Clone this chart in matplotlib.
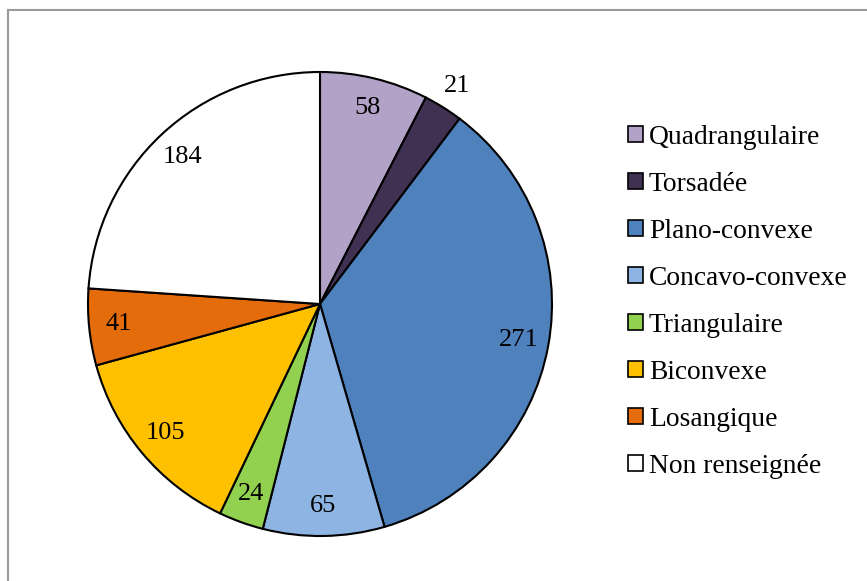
import matplotlib
matplotlib.use("Agg")
import matplotlib.pyplot as plt
from matplotlib.patches import Patch
from matplotlib.lines import Line2D

categories = ["Quadrangulaire", "Torsadée", "Plano-convexe", "Concavo-convexe",
              "Triangulaire", "Biconvexe", "Losangique", "Non renseignée"]
values = [58, 21, 271, 65, 24, 105, 41, 184]
colors = ["#B3A2C7", "#403152", "#4F81BD", "#8EB4E3",
          "#92D050", "#FFC000", "#E46C0A", "#FFFFFF"]

plt.rcParams['font.family'] = ['Liberation Serif', 'DejaVu Serif']

W, H = 867, 581
fig = plt.figure(figsize=(W / 100, H / 100), dpi=100)

# frame (top and left edges visible)
fig.add_artist(Line2D([8 / W, 1], [1 - 10 / H, 1 - 10 / H], color="#9a9a9a", lw=1.5,
                      transform=fig.transFigure))
fig.add_artist(Line2D([8 / W, 8 / W], [0, 1 - 10 / H], color="#9a9a9a", lw=1.5,
                      transform=fig.transFigure))

cx, cy, r = 320, 304, 232
ax = fig.add_axes([(cx - r) / W, (H - cy - r) / H, 2 * r / W, 2 * r / H])
wedges, texts = ax.pie(values, colors=colors, startangle=90, counterclock=False,
                       wedgeprops=dict(edgecolor="black", linewidth=1.5),
                       labels=[str(v) for v in values], labeldistance=0.87,
                       textprops=dict(fontsize=19, ha="center", va="center"))
for t in texts:
    t.set_ha("center")
    t.set_va("center")
# the small slice label sits outside
x, y = texts[1].get_position()
texts[1].set_position((x * 1.11 / 0.87, y * 1.11 / 0.87))
ax.set_xlim(-1, 1)
ax.set_ylim(-1, 1)
ax.set_aspect("equal")
ax.axis("off")

handles = [Patch(facecolor=c, edgecolor="black", linewidth=1.2) for c in colors]
leg = fig.legend(handles, categories, loc="upper left",
                 bbox_to_anchor=(614 / W, 1 - 111 / H), frameon=False,
                 fontsize=19.8, handlelength=0.55, handleheight=0.55,
                 handletextpad=0.22, labelspacing=0.80, borderpad=0)

fig.savefig("out.png", dpi=100)
